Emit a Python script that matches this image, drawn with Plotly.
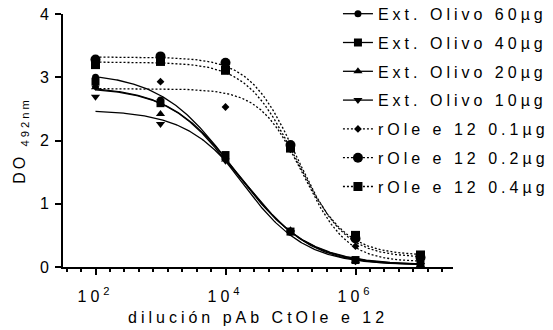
import numpy as np
import plotly.graph_objects as go

# Serial dilutions of the pAb
dilution = [1e2, 1e3, 1e4, 1e5, 1e6, 1e7]

series_names = [
    "Ext. Olivo 60µg",
    "Ext. Olivo 40µg",
    "Ext. Olivo 20µg",
    "Ext. Olivo 10µg",
    "rOle e 12 0.1µg",
    "rOle e 12 0.2µg",
    "rOle e 12 0.4µg",
]

# Measured absorbance (DO 492 nm) for each coating
do_ext60 = [3.00, 2.64, 1.75, 0.55, 0.10, 0.04]
do_ext40 = [2.93, 2.59, 1.77, 0.56, 0.11, 0.04]
do_ext20 = [2.84, 2.42, 1.70, 0.58, 0.10, 0.03]
do_ext10 = [2.69, 2.26, 1.68, 0.55, 0.09, 0.03]
do_rol01 = [2.85, 2.93, 2.53, 1.86, 0.33, 0.10]
do_rol02 = [3.28, 3.33, 3.23, 1.93, 0.45, 0.15]
do_rol04 = [3.20, 3.25, 3.11, 1.88, 0.50, 0.19]
series_values = [do_ext60, do_ext40, do_ext20, do_ext10, do_rol01, do_rol02, do_rol04]

# Four-parameter logistic fit per series: top, bottom, logEC50, Hill slope
fit_top = [3.08, 2.86, 2.84, 2.48, 2.82, 3.32, 3.24]
fit_bottom = [0.03, 0.03, 0.03, 0.03, 0.08, 0.15, 0.18]
fit_logec50 = [4.12, 4.21, 4.18, 4.36, 5.20, 5.10, 5.08]
fit_hill = [0.77, 0.81, 0.85, 0.88, 1.30, 1.20, 1.15]

symbols = ["circle", "square", "triangle-up", "triangle-down", "diamond", "circle", "square"]
marker_sizes = [7, 8, 8, 8, 6, 10, 9]
line_dash = ["solid"] * 4 + ["2px,2px"] * 3

x_ticks = [1e2, 1e4, 1e6]
x_tick_text = ["10<sup>2</sup>", "10<sup>4</sup>", "10<sup>6</sup>"]
y_ticks = [0, 1, 2, 3, 4]

FONT = "Liberation Sans, Arial, sans-serif"
fig = go.Figure()

log_x = np.log10(dilution)
curve_lx = np.linspace(log_x.min(), log_x.max(), 300)

for i, name in enumerate(series_names):
    grp = f"g{i}"
    top, bot, ec, h = fit_top[i], fit_bottom[i], fit_logec50[i], fit_hill[i]
    curve_y = bot + (top - bot) / (1 + 10 ** ((curve_lx - ec) * h))
    fig.add_trace(go.Scatter(
        x=10 ** curve_lx, y=curve_y, mode="lines",
        line=dict(color="black", width=1.3, dash=line_dash[i]),
        legendgroup=grp, showlegend=False, hoverinfo="skip",
    ))
    fig.add_trace(go.Scatter(
        x=dilution, y=series_values[i], mode="markers",
        marker=dict(symbol=symbols[i], size=marker_sizes[i], color="black"),
        legendgroup=grp, showlegend=False,
    ))
    # legend entry: line style plus marker
    fig.add_trace(go.Scatter(
        x=[None], y=[None], mode="lines+markers", name=name,
        line=dict(color="black", width=1.3, dash=line_dash[i]),
        marker=dict(symbol=symbols[i], size=marker_sizes[i], color="black"),
        legendgroup=grp, showlegend=True,
    ))

axis_common = dict(
    showline=True, linecolor="black", linewidth=2,
    ticks="outside", ticklen=6, tickwidth=2, tickcolor="black",
    showgrid=False, zeroline=False, automargin=False,
    tickfont=dict(family=FONT, size=16, color="black"),
)

fig.update_layout(
    width=553, height=330,
    margin=dict(l=63, r=100, t=14, b=63, autoexpand=False),
    paper_bgcolor="white", plot_bgcolor="white",
    font=dict(family=FONT, size=16, color="black"),
    showlegend=True,
    legend=dict(
        x=0.705, y=1.068, xanchor="left", yanchor="top",
        bgcolor="rgba(0,0,0,0)", borderwidth=0,
        font=dict(family=FONT, size=16, color="black"),
        tracegroupgap=5, itemsizing="trace", maxheight=330,
    ),
    xaxis=dict(
        type="log", range=[1.5, 7.5],
        tickmode="array", tickvals=x_ticks, ticktext=x_tick_text,
        ticklabelstandoff=8,
        minor=dict(tickmode="linear", tick0=0, dtick=2 / 9, ticks="outside",
                   ticklen=3, tickwidth=2, tickcolor="black", showgrid=False),
        title=dict(text="dilución pAb CtOle e 12", standoff=8,
                   font=dict(family=FONT, size=16, color="black")),
        **axis_common,
    ),
    yaxis=dict(
        range=[0, 4], tickvals=y_ticks, ticklabelstandoff=3,
        title=dict(text="DO <sub>492nm</sub>", standoff=10,
                   font=dict(family=FONT, size=16, color="black")),
        **axis_common,
    ),
)

# widen the character tracking of labels, keeping centred labels centred,
# and leave the legend text unclipped
post = """
var gd = document.getElementById('{plot_id}');
function spaceCentred(t, sp) {
  var r0 = t.getBoundingClientRect();
  t.setAttribute('letter-spacing', sp + 'px');
  var r1 = t.getBoundingClientRect();
  var dx = (r0.left + r0.width / 2) - (r1.left + r1.width / 2);
  var dy = (r0.top + r0.height / 2) - (r1.top + r1.height / 2);
  var tr = t.getAttribute('transform') || '';
  t.setAttribute('transform', 'translate(' + dx + ',' + dy + ') ' + tr);
}
function track() {
  gd.querySelectorAll('.legendtext').forEach(function (t) {
    t.setAttribute('letter-spacing', '4px');
  });
  gd.querySelectorAll('.xtick text, .g-xtitle text').forEach(function (t) {
    spaceCentred(t, 4);
  });
  gd.querySelectorAll('.g-ytitle text').forEach(function (t) {
    spaceCentred(t, 3);
  });
  gd.querySelectorAll('.legend .scrollbox, .legend').forEach(function (e) {
    e.removeAttribute('clip-path');
  });
}
track();
"""

fig.write_html("out.html", post_script=post)
